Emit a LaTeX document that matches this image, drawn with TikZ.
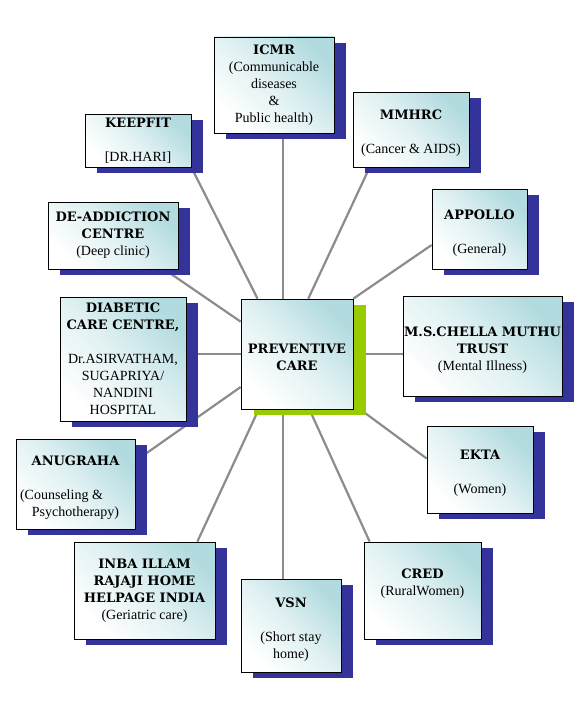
\documentclass[tikz,border=0pt]{standalone}
\usepackage{fontspec}
\setmainfont{Liberation Serif}
\newfontfamily\headfont{DejaVu Serif}
\usepackage{tikz}
\usetikzlibrary{calc,shadows}
\definecolor{boxteal}{HTML}{B2DBDF}
\definecolor{shadowblue}{HTML}{333399}
\definecolor{shadowgreen}{HTML}{99CC00}
\definecolor{linkgray}{HTML}{8C8C8C}
\pgfdeclarelayer{background}
\pgfsetlayers{background,main}
\newcommand{\hd}[1]{{\headfont\bfseries\fontsize{13}{17}\selectfont #1}}

\begin{document}
\begin{tikzpicture}[x=1pt,y=-1pt,font=\fontsize{14}{17}\selectfont,
  cardbase/.style={draw=black,line width=0.7pt,top color=boxteal,bottom color=white,middle color=boxteal!40!white,shading angle=-45,inner sep=0pt,align=center},
  orgbox/.style={cardbase,general shadow={fill=shadowblue,shadow xshift=12pt,shadow yshift=-6pt}},
  hubbox/.style={cardbase,general shadow={fill=shadowgreen,shadow xshift=13pt,shadow yshift=-6pt}},
  spoke/.style={draw=linkgray,line width=2.2pt}]
\useasboundingbox (0,0) rectangle (580,709);
\node[hubbox,minimum width=112pt,minimum height=110pt] (care) at (297,354) {~\\\hd{PREVENTIVE}\\\hd{CARE}};
\node[orgbox,minimum width=120pt,minimum height=96pt] (icmr) at (274,85) {\hd{ICMR}\\(Communicable\\diseases\\\&\\Public health)};
\node[orgbox,minimum width=106pt,minimum height=53pt] (keepfit) at (138,140.5) {\hd{KEEPFIT}\\~\\{[DR.HARI]}};
\node[orgbox,minimum width=116pt,minimum height=75pt] (mmhrc) at (411,129.5) {~\\\hd{MMHRC}\\~\\(Cancer \& AIDS)};
\node[orgbox,minimum width=130pt,minimum height=67pt] (deaddiction) at (113,235.5) {\hd{DE-ADDICTION}\\\hd{CENTRE}\\(Deep clinic)};
\node[orgbox,minimum width=95pt,minimum height=80pt] (appollo) at (479.5,229) {~\\\hd{APPOLLO}\\~\\(General)};
\node[orgbox,minimum width=126pt,minimum height=124pt] (diabetic) at (123,359) {\hd{DIABETIC}\\\hd{CARE CENTRE,}\\~\\Dr.ASIRVATHAM,\\SUGAPRIYA/\\NANDINI\\HOSPITAL};
\node[orgbox,minimum width=159pt,minimum height=100pt] (chella) at (482.5,346) {~\\\hd{M.S.CHELLA MUTHU}\\\hd{TRUST}\\(Mental Illness)};
\node[orgbox,minimum width=119pt,minimum height=90pt] (anugraha) at (75.5,484) {~\\\hd{ANUGRAHA}\\~\\(Counseling \&\phantom{\quad\quad}\\Psychotherapy)};
\node[orgbox,minimum width=106pt,minimum height=87pt] (ekta) at (480,469.5) {~\\\hd{EKTA}\\~\\(Women)};
\node[orgbox,minimum width=141pt,minimum height=97pt] (inba) at (144.5,590.5) {\hd{INBA ILLAM}\\\hd{RAJAJI HOME}\\\hd{HELPAGE INDIA}\\(Geriatric care)};
\node[orgbox,minimum width=117pt,minimum height=97pt] (cred) at (422.5,590.5) {\hd{CRED}\\(RuralWomen)\\~};
\node[orgbox,minimum width=100pt,minimum height=93pt] (vsn) at (291,625.5) {~\\\hd{VSN}\\~\\(Short stay\\home)};
% spokes behind the boxes
\begin{pgfonlayer}{background}
\fill[white] (0,0) rectangle (580,709);
\coordinate (topc) at ($(care.north west)!.375!(care.north east)$);
\coordinate (botc) at ($(care.south west)!.375!(care.south east)$);
\draw[spoke] (topc) -- (topc |- icmr.south);
\draw[spoke] ($(care.north west)!.15!(care.north east)$) -- (keepfit.south east);
\draw[spoke] ([yshift=-23pt]care.north west) -- ([xshift=-14pt]deaddiction.south east);
\draw[spoke] ($(care.north west)!.6!(care.north east)$) -- ([xshift=17pt]mmhrc.south west);
\draw[spoke] (care.north east) -- ([yshift=-16pt]appollo.west);
\draw[spoke] (care.east) -- (care.east -| chella.west);
\draw[spoke] (care.west) -- (care.west -| diabetic.east);
\draw[spoke] ([yshift=-33pt]care.west) -- ([yshift=23pt]anugraha.east);
\draw[spoke] ($(care.south west)!.16!(care.south east)$) -- ([xshift=-18pt]inba.north east);
\draw[spoke] (botc) -- (botc |- vsn.north);
\draw[spoke] ($(care.south west)!.61!(care.south east)$) -- ([xshift=6pt]cred.north west);
\draw[spoke] ([yshift=5pt]care.south east) -- ([yshift=11pt]ekta.west);
\end{pgfonlayer}
\end{tikzpicture}
\end{document}
